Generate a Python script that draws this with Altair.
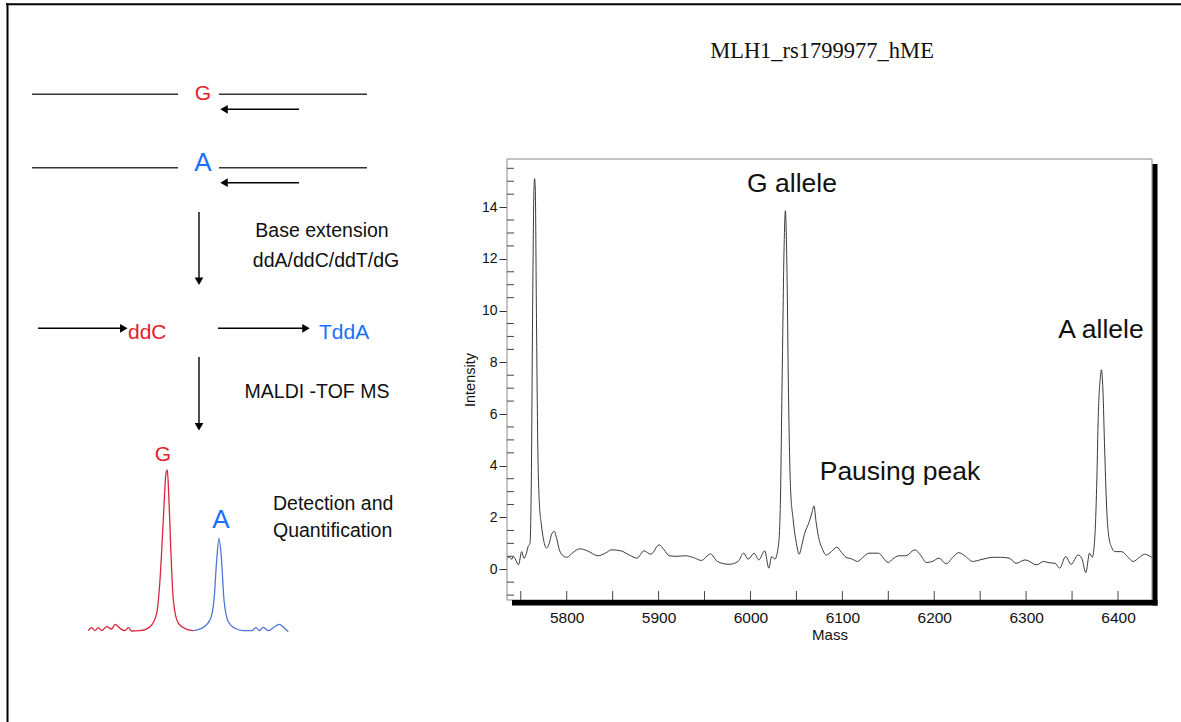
import altair as alt
import pandas as pd

W, H = 1181, 722

# ---------------- spectrum (MALDI-TOF) ----------------
mass = [5735.5, 5738, 5740, 5742, 5744, 5747.5, 5751, 5753.5, 5756, 5758, 5760, 5761.5, 5763, 5764.3, 5765,
        5765.8, 5767, 5768.5, 5770, 5772.5, 5775, 5778, 5781, 5783.5, 5786.5, 5789, 5792, 5796, 5800, 5807,
        5814, 5822, 5834, 5842, 5849, 5859, 5868, 5876.5, 5884, 5891.5, 5900.5, 5906, 5911.5, 5920, 5929,
        5938, 5946.5, 5956.5, 5964, 5976.5, 5986.5, 5992.5, 5997.5, 6004, 6009, 6015.5, 6020, 6023, 6026.5,
        6030.5, 6032.5, 6034.5, 6036.5, 6038, 6039.5, 6041.5, 6043.5, 6046.5, 6050, 6053, 6056, 6059, 6064,
        6067, 6069, 6071.5, 6074, 6078, 6082.5, 6088, 6094, 6099, 6104, 6110, 6116.5, 6122, 6129, 6139,
        6150, 6155, 6161.5, 6169, 6179, 6185, 6191.5, 6198, 6205, 6213, 6220, 6226.5, 6234, 6241.5, 6252,
        6264, 6272, 6281.5, 6289, 6299, 6311.5, 6319, 6325, 6331.5, 6336.5, 6343, 6349, 6356.5, 6360.5,
        6365, 6369, 6372, 6375, 6377, 6378.5, 6380.5, 6382, 6383.5, 6385.5, 6388, 6390, 6393, 6396.5, 6404,
        6410, 6416.5, 6423, 6429, 6436.5]
intensity = [0.43, 0.47, 0.38, 0.49, 0.40, 0.17, 0.68, 0.42, 0.60, 0.88, 1.0, 3.5, 10.5, 14.6, 15.1,
             14.7, 10.0, 4.8, 2.7, 1.7, 1.1, 0.82, 1.0, 1.35, 1.46, 1.2, 0.75, 0.52, 0.46, 0.65,
             0.79, 0.72, 0.52, 0.62, 0.75, 0.71, 0.55, 0.43, 0.71, 0.58, 0.94, 0.75, 0.52, 0.50, 0.52,
             0.45, 0.34, 0.59, 0.30, 0.19, 0.30, 0.62, 0.39, 0.62, 0.36, 0.71, 0.04, 0.49, 0.39,
             0.94, 2.5, 7.5, 12.3, 13.86, 12.0, 6.5, 3.2, 1.9, 1.0, 0.58, 0.95, 1.39, 1.84,
             2.2, 2.45, 1.8, 1.26, 0.8, 0.55, 0.68, 0.85, 0.65, 0.46, 0.40, 0.30, 0.45, 0.62, 0.62,
             0.26, 0.40, 0.52, 0.52, 0.75, 0.55, 0.26, 0.30, 0.43, 0.21, 0.45, 0.64, 0.50, 0.30, 0.38,
             0.46, 0.46, 0.43, 0.23, 0.36, 0.17, 0.30, 0.25, 0.23, 0.04, 0.49, 0.19, 0.55, 0.43,
             -0.13, 0.62, 0.46, 1.39, 3.5, 5.9, 7.3, 7.71, 7.0, 4.6, 2.1, 1.26, 0.85, 0.68, 0.68,
             0.50, 0.30, 0.45, 0.58, 0.46]

x_labels = [5800, 5900, 6000, 6100, 6200, 6300, 6400]
x_ticks = [5750, 5800, 5850, 5900, 5950, 6000, 6050, 6100, 6150, 6200, 6250, 6300, 6350, 6400]
y_labels = [0, 2, 4, 6, 8, 10, 12, 14]
y_minor = [-1, -0.5, 0.5, 1, 1.5, 2.5, 3, 3.5, 4.5, 5, 5.5, 6.5, 7, 7.5, 8.5, 9, 9.5,
           10.5, 11, 11.5, 12.5, 13, 13.5, 14.5, 15, 15.5]

# annotations on the spectrum
ann_text = ["G allele", "A allele", "Pausing peak"]
ann_x = [792, 1101, 900]
ann_y = [184, 329.5, 472]

# ---------------- schematic (left) ----------------
seg_x = [32, 219, 32, 219, 299, 299, 199, 199, 38, 218]
seg_x2 = [178, 367, 178, 367, 226, 226, 199, 199, 122, 304]
seg_y = [94.3, 94.3, 167.7, 167.7, 109.3, 182.7, 212, 357, 328.3, 328.3]
seg_y2 = [94.3, 94.3, 167.7, 167.7, 109.3, 182.7, 279, 424, 328.3, 328.3]
seg_color = ["#333333"] * 4 + ["#000000"] * 6

head_x = [224, 224, 199, 199, 123.8, 306]
head_y = [109.3, 182.7, 281.2, 426.8, 328.3, 328.3]
head_shape = ["triangle-left", "triangle-left", "triangle-down", "triangle-down",
              "triangle-right", "triangle-right"]

red_x = [88.3, 91.7, 95, 98.3, 101.7, 106.7, 111.7, 115, 120, 125, 128.3, 131.7, 140, 150, 156.7,
         160, 163.3, 166, 167.3, 168.7, 170.7, 173.3, 178.3, 186.7, 193.3]
red_y = [630.7, 627.7, 630.7, 627.7, 630.7, 626.7, 629, 624.3, 628.3, 630.7, 627.7, 631, 630.7,
         626.7, 613.3, 580, 520, 473.3, 470, 493.3, 546.7, 600, 623.3, 629.3, 630.7]
blue_x = [193.3, 201.7, 210, 214, 216.7, 219, 221.3, 224, 228.3, 235, 243.3, 251.7, 256, 259.3,
          263.3, 268.3, 273.3, 279.3, 284, 288.3]
blue_y = [630.7, 628.3, 620, 600, 560, 538.3, 556.7, 600, 621.7, 628.3, 630.7, 630.7, 627.7,
          630.7, 627.3, 630.7, 627.7, 624.3, 627.7, 631.7]

c_text = ["G", "A", "Base extension", "ddA/ddC/ddT/dG", "MALDI -TOF MS", "G", "A"]
c_x = [203, 203, 322, 326, 317, 163, 221]
c_y = [94, 162.5, 231, 261, 391.7, 454.5, 519.5]
c_size = [21, 26, 19.5, 19.5, 19.5, 21, 26]
c_color = ["#e3202b", "#1a6fff", "#111111", "#111111", "#111111", "#e3202b", "#1a6fff"]

l_text = ["ddC", "TddA", "Detection and", "Quantification"]
l_x = [128, 319, 273, 273]
l_y = [333, 333, 503.5, 531]
l_size = [21, 21, 19.5, 19.5]
l_color = ["#e3202b", "#1a6fff", "#111111", "#111111"]

title_text = ["MLH1_rs1799977_hME"]

# ---------------- scales ----------------
PXS = alt.Scale(domain=[0, W], range=[0, W], nice=False, zero=False)
PYS = alt.Scale(domain=[0, H], range=[0, H], nice=False, zero=False)
MXS = alt.Scale(domain=[5735, 6437], range=[507, 1152], nice=False, zero=False)
MYS = alt.Scale(domain=[-1.19, 15.86], range=[600, 159], nice=False, zero=False)


def pxy(df, xf="x", yf="y"):
    return dict(x=alt.X(f"{xf}:Q", scale=PXS, axis=None),
                y=alt.Y(f"{yf}:Q", scale=PYS, axis=None))


SANS = "Liberation Sans"

# whole-figure border (top and left)
border = pd.DataFrame({"x": [6, 7.5], "x2": [W, 7.5], "y": [4.3, 3], "y2": [4.3, H]})
border_layer = alt.Chart(border).mark_rule(color="#000000", strokeWidth=2).encode(
    **pxy(border), x2="x2:Q", y2="y2:Q")

# spectrum frame and shadow
frame = pd.DataFrame({"x": [507], "x2": [1152], "y": [159], "y2": [600]})
frame_layer = alt.Chart(frame).mark_rect(fill="white", stroke="#8a8a8a", strokeWidth=1).encode(
    **pxy(frame), x2="x2:Q", y2="y2:Q")
shadow = pd.DataFrame({"x": [512, 1152.5], "x2": [1157.5, 1157.5], "y": [600, 164], "y2": [605.5, 605.5]})
shadow_layer = alt.Chart(shadow).mark_rect(fill="#000000").encode(
    **pxy(shadow), x2="x2:Q", y2="y2:Q")

spec = pd.DataFrame({"Mass": mass, "Intensity": intensity})
spec_layer = alt.Chart(spec).mark_line(color="#3a3a3a", strokeWidth=1, interpolate="monotone").encode(
    x=alt.X("Mass:Q", scale=MXS,
            axis=alt.Axis(orient="bottom", offset=-(H - 600), values=x_labels, ticks=False, tickSize=0,
                          domain=False, grid=False, labelFont=SANS, labelFontSize=15.5, labelColor="#111111",
                          labelPadding=10, format="d", title="Mass", titleFont=SANS, titleFontSize=15,
                          titleFontWeight="normal", titleColor="#111111", titlePadding=2)),
    y=alt.Y("Intensity:Q", scale=MYS,
            axis=alt.Axis(orient="left", offset=-507, values=y_labels, tickSize=8, tickColor="#333333",
                          domain=False, grid=False, labelFont=SANS, labelFontSize=14, labelColor="#111111",
                          labelPadding=2, title="Intensity", titleFont=SANS, titleFontSize=14.5,
                          titleFontWeight="normal", titleColor="#111111", titlePadding=4)),
    order=alt.Order("Mass:Q"),
)

xt = pd.DataFrame({"m": x_ticks})
xtick_layer = alt.Chart(xt).mark_rule(color="#444444", strokeWidth=1).encode(
    x=alt.X("m:Q", scale=MXS, axis=None), y=alt.value(591), y2=alt.value(600))
yt = pd.DataFrame({"v": y_minor})
ytick_layer = alt.Chart(yt).mark_rule(color="#444444", strokeWidth=1).encode(
    y=alt.Y("v:Q", scale=MYS, axis=None), x=alt.value(507), x2=alt.value(514))

ann = pd.DataFrame({"t": ann_text, "x": ann_x, "y": ann_y})
ann_layer = alt.Chart(ann).mark_text(font=SANS, fontSize=26.5, align="center", baseline="middle",
                                     color="#111111").encode(**pxy(ann), text="t:N")

# schematic
seg = pd.DataFrame({"x": seg_x, "x2": seg_x2, "y": seg_y, "y2": seg_y2, "c": seg_color})
seg_layer = alt.Chart(seg).mark_rule(strokeWidth=1.4).encode(
    **pxy(seg), x2="x2:Q", y2="y2:Q", color=alt.Color("c:N", scale=None))
heads = pd.DataFrame({"x": head_x, "y": head_y, "s": head_shape})
head_layer = alt.Chart(heads).mark_point(filled=True, color="#000000", opacity=1, size=75).encode(
    **pxy(heads), shape=alt.Shape("s:N", scale=None))

red = pd.DataFrame({"x": red_x, "y": red_y, "i": list(range(len(red_x)))})
red_layer = alt.Chart(red).mark_line(color="#d8263f", strokeWidth=1.3, interpolate="monotone").encode(
    **pxy(red), order="i:Q")
blue = pd.DataFrame({"x": blue_x, "y": blue_y, "i": list(range(len(blue_x)))})
blue_layer = alt.Chart(blue).mark_line(color="#4f76d6", strokeWidth=1.3, interpolate="monotone").encode(
    **pxy(blue), order="i:Q")

ctext = pd.DataFrame({"t": c_text, "x": c_x, "y": c_y, "s": c_size, "c": c_color})
ctext_layer = alt.Chart(ctext).mark_text(font=SANS, align="center", baseline="middle").encode(
    **pxy(ctext), text="t:N", size=alt.Size("s:Q", scale=None), color=alt.Color("c:N", scale=None))
ltext = pd.DataFrame({"t": l_text, "x": l_x, "y": l_y, "s": l_size, "c": l_color})
ltext_layer = alt.Chart(ltext).mark_text(font=SANS, align="left", baseline="middle").encode(
    **pxy(ltext), text="t:N", size=alt.Size("s:Q", scale=None), color=alt.Color("c:N", scale=None))

ttl = pd.DataFrame({"t": title_text, "x": [822], "y": [50.5]})
title_layer = alt.Chart(ttl).mark_text(font="Liberation Serif", fontSize=22.5, align="center",
                                       baseline="middle", color="#111111").encode(**pxy(ttl), text="t:N")

chart = alt.layer(
    border_layer, frame_layer, spec_layer, xtick_layer, ytick_layer, shadow_layer, ann_layer,
    seg_layer, head_layer, red_layer, blue_layer, ctext_layer, ltext_layer, title_layer,
).resolve_scale(x="independent", y="independent").properties(
    width=W, height=H, padding=0, autosize=alt.AutoSizeParams(type="none"),
    background="white",
).configure_view(stroke=None)

chart.save("out.html", embed_options={"renderer": "svg", "actions": False})
